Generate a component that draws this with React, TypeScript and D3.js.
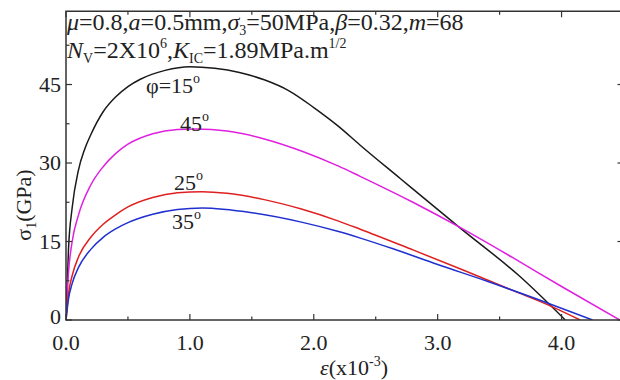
import React from "react";
import * as d3 from "d3";

// Strain ε (x10^-3) and stress σ1 (GPa) for each crack angle φ
const eps15 = [0, 0.02, 0.05, 0.1, 0.15, 0.2, 0.3, 0.4, 0.5, 0.6, 0.8, 1.0, 1.2, 1.4, 1.6, 1.8, 2.0, 2.2, 2.37, 2.7, 3.18, 3.66, 4.03];
const sig15 = [0, 13.5, 21.5, 28.6, 32.6, 35.4, 39.8, 42.6, 44.6, 46.0, 47.7, 48.4, 48.1, 47.3, 45.9, 43.8, 40.6, 37.0, 33.5, 27.0, 17.6, 8.4, 0];

const eps45 = [0, 0.02, 0.05, 0.1, 0.2, 0.3, 0.4, 0.5, 0.7, 0.9, 1.05, 1.3, 1.6, 1.9, 2.2, 2.37, 2.8, 3.18, 3.6, 4.0, 4.47];
const sig45 = [0, 9, 15, 20, 25.8, 29.3, 31.8, 33.6, 35.6, 36.4, 36.5, 36.1, 34.6, 32.3, 29.4, 27.5, 22.5, 17.7, 12.0, 6.4, 0];

const eps25 = [0, 0.02, 0.05, 0.1, 0.2, 0.3, 0.4, 0.5, 0.7, 0.9, 1.1, 1.3, 1.6, 1.9, 2.2, 2.37, 2.8, 3.2, 3.6, 3.9, 4.15];
const sig25 = [0, 5, 8.5, 12, 15.8, 18.3, 20.1, 21.6, 23.4, 24.3, 24.5, 24.2, 23, 21.2, 18.9, 17.4, 13.4, 9.6, 5.7, 2.8, 0];

const eps35 = [0, 0.02, 0.05, 0.1, 0.2, 0.3, 0.4, 0.5, 0.7, 0.9, 1.1, 1.5, 1.9, 2.2, 2.37, 2.64, 3.0, 3.4, 3.8, 4.25];
const sig35 = [0, 4, 7, 10, 13.5, 15.8, 17.4, 18.6, 20.2, 21.1, 21.4, 20.5, 18.7, 16.9, 15.7, 13.6, 10.6, 7.4, 4.0, 0];

const xTicks = [0, 1, 2, 3, 4];
const xTickLabels = ["0.0", "1.0", "2.0", "3.0", "4.0"];
const yTicks = [0, 15, 30, 45];
const yTickLabels = ["0", "15", "30", "45"];

const W = 620;
const H = 380;
const FONT = "Liberation Serif, Times New Roman, DejaVu Serif, serif";

const x = d3.scaleLinear().domain([0, 4.5]).range([66, 623.5]);
const y = d3.scaleLinear().domain([0, 59]).range([320, 320 - 59 * 5.233]);

const series = [
  { eps: eps15, sig: sig15, color: "#1a1a1a" },
  { eps: eps45, sig: sig45, color: "#e020e0" },
  { eps: eps25, sig: sig25, color: "#e02020" },
  { eps: eps35, sig: sig35, color: "#2030d0" },
];

const line = d3
  .line<[number, number]>()
  .x((d) => x(d[0]))
  .y((d) => y(d[1]))
  .curve(d3.curveMonotoneX);

const txt = { fontFamily: FONT, fill: "#222" };
const sub = { fontSize: 14 };

export default function App() {
  const [x0, x1] = x.range();
  const [y0, y1] = y.range();
  const xMinor = d3.range(0.5, 4.5, 1);
  const yMinor = d3.range(7.5, 59, 15);
  const axisColor = "#333";

  return (
    <svg
      width={W}
      height={H}
      style={{ position: "fixed", left: 0, top: 0, background: "#fff" }}
    >
      <defs>
        <clipPath id="plot">
          <rect x={x0} y={y1} width={x1 - x0} height={y0 - y1} />
        </clipPath>
      </defs>

      {/* curves */}
      <g clipPath="url(#plot)" fill="none" strokeWidth={1.5}>
        {series.map((s, i) => (
          <path
            key={i}
            d={line(s.eps.map((e, j) => [e, s.sig[j]]) as [number, number][]) || ""}
            stroke={s.color}
          />
        ))}
      </g>

      {/* frame */}
      <rect x={x0} y={y1} width={x1 - x0} height={y0 - y1} fill="none" stroke={axisColor} strokeWidth={1.5} />

      {/* ticks on all four sides, pointing inward */}
      <g stroke={axisColor} strokeWidth={1.2}>
        {xTicks.map((t) => (
          <g key={"xt" + t}>
            <line x1={x(t)} x2={x(t)} y1={y0} y2={y0 - 6} />
            <line x1={x(t)} x2={x(t)} y1={y1} y2={y1 + 6} />
          </g>
        ))}
        {xMinor.map((t) => (
          <g key={"xm" + t}>
            <line x1={x(t)} x2={x(t)} y1={y0} y2={y0 - 3.5} />
            <line x1={x(t)} x2={x(t)} y1={y1} y2={y1 + 3.5} />
          </g>
        ))}
        {yTicks.map((t) => (
          <g key={"yt" + t}>
            <line x1={x0} x2={x0 + 6} y1={y(t)} y2={y(t)} />
            <line x1={x1} x2={x1 - 6} y1={y(t)} y2={y(t)} />
          </g>
        ))}
        {yMinor.map((t) => (
          <g key={"ym" + t}>
            <line x1={x0} x2={x0 + 3.5} y1={y(t)} y2={y(t)} />
            <line x1={x1} x2={x1 - 3.5} y1={y(t)} y2={y(t)} />
          </g>
        ))}
      </g>

      {/* tick labels */}
      <g style={{ ...txt, fontSize: 22 }}>
        {xTicks.map((t, i) => (
          <text key={"xl" + t} x={x(t)} y={y0 + 30} textAnchor="middle">
            {xTickLabels[i]}
          </text>
        ))}
        {yTicks.map((t, i) => (
          <text key={"yl" + t} x={x0 - 5} y={y(t) + (t === 0 ? 4 : 7)} textAnchor="end">
            {yTickLabels[i]}
          </text>
        ))}
      </g>

      {/* axis titles */}
      <text x={354} y={375} textAnchor="middle" style={{ ...txt, fontSize: 22 }}>
        <tspan fontStyle="italic">ε</tspan>
        <tspan>(x10</tspan>
        <tspan style={sub} dy={-9}>-3</tspan>
        <tspan dy={9}>)</tspan>
      </text>
      <text
        transform="translate(31,205) rotate(-90)"
        textAnchor="middle"
        style={{ ...txt, fontSize: 22 }}
      >
        <tspan>σ</tspan>
        <tspan style={sub} dy={5}>1</tspan>
        <tspan dy={-5}>(GPa)</tspan>
      </text>

      {/* parameter annotation */}
      <g style={{ ...txt, fontSize: 24 }}>
        <text x={67} y={30}>
          <tspan fontStyle="italic">μ</tspan>
          <tspan>=0.8,</tspan>
          <tspan fontStyle="italic">a</tspan>
          <tspan>=0.5mm,</tspan>
          <tspan fontStyle="italic">σ</tspan>
          <tspan style={sub} dy={5}>3</tspan>
          <tspan dy={-5}>=50MPa,</tspan>
          <tspan fontStyle="italic">β</tspan>
          <tspan>=0.32,</tspan>
          <tspan fontStyle="italic">m</tspan>
          <tspan>=68</tspan>
        </text>
        <text x={67} y={58}>
          <tspan fontStyle="italic">N</tspan>
          <tspan style={sub} dy={5}>V</tspan>
          <tspan dy={-5}>=2X10</tspan>
          <tspan style={sub} dy={-10}>6</tspan>
          <tspan dy={10}>,</tspan>
          <tspan fontStyle="italic">K</tspan>
          <tspan style={sub} dy={5}>IC</tspan>
          <tspan dy={-5}>=1.89MPa.m</tspan>
          <tspan style={sub} dy={-10}>1/2</tspan>
        </text>
      </g>

      {/* curve labels */}
      <g style={{ ...txt, fontSize: 22 }}>
        <text x={146} y={93}>
          <tspan>φ=15</tspan>
          <tspan style={sub} dy={-10}>o</tspan>
        </text>
        <text x={180} y={131}>
          <tspan>45</tspan>
          <tspan style={sub} dy={-10}>o</tspan>
        </text>
        <text x={174} y={190}>
          <tspan>25</tspan>
          <tspan style={sub} dy={-10}>o</tspan>
        </text>
        <text x={172} y={229}>
          <tspan>35</tspan>
          <tspan style={sub} dy={-10}>o</tspan>
        </text>
      </g>
    </svg>
  );
}
